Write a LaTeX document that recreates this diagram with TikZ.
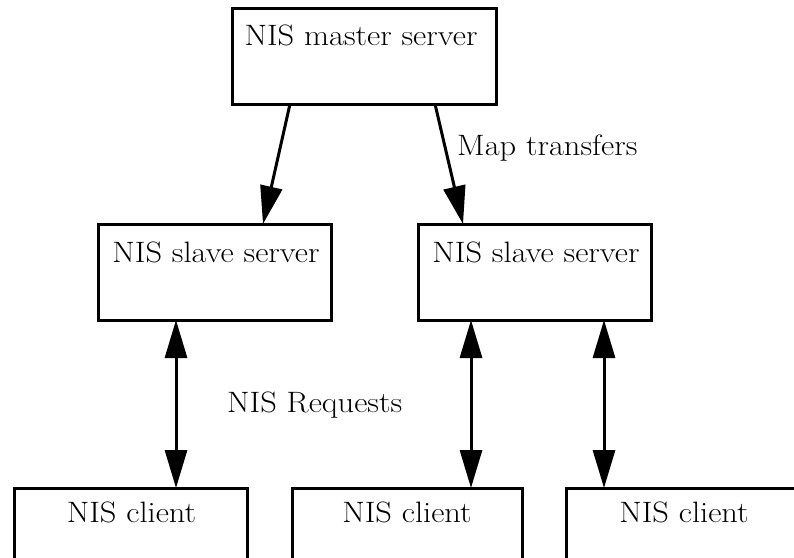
\documentclass[tikz,border=0pt]{standalone}
\usetikzlibrary{arrows.meta,calc}
\newcommand{\wide}[1]{\scalebox{1.1}[1]{#1}}
\begin{document}
\begin{tikzpicture}[x=1pt,y=-1pt,
  box/.style={draw, line width=3pt, rectangle, outer sep=0pt, inner sep=0pt, minimum height=96pt},
  txt/.style={font=\fontsize{29.5}{35}\selectfont, inner sep=0pt, anchor=base},
  lbl/.style={font=\fontsize{29.5}{35}\selectfont, inner sep=0pt, anchor=base west},
  arr/.style={line width=3pt, -{Triangle[length=38pt,width=22pt]}},
  darr/.style={line width=3pt, {Triangle[length=38pt,width=22pt]}-{Triangle[length=38pt,width=22pt]}}]
\useasboundingbox (0,0) rectangle (794,557);
\clip (0,0) rectangle (794,557);
% boxes
\node[box, minimum width=264pt] (m) at (364,56) {};
\node[box, minimum width=233pt] (sl) at (214.5,272) {};
\node[box, minimum width=233pt] (sr) at (534.5,272) {};
\node[box, minimum width=233pt] (c1) at (130.5,536) {};
\node[box, minimum width=230pt] (c2) at (407,536) {};
\node[box, minimum width=233pt] (c3) at (682.5,536) {};
% texts
\node[txt] (mt) at (361,45) {\wide{NIS master server}};
\node[txt] (slt) at (216,262) {\wide{NIS slave server}};
\node[txt] (srt) at (536,262) {\wide{NIS slave server}};
\node[txt] (c1t) at (131.5,522) {\wide{NIS client}};
\node[txt] (c2t) at (407,522) {\wide{NIS client}};
\node[txt] (c3t) at (684,522) {\wide{NIS client}};
\node[lbl] (map) at (457,155) {\wide{Map transfers}};
\node[lbl] (req) at (227,412) {\wide{NIS Requests}};
% connectors
\draw[arr] ([xshift=58pt]m.south west) -- ([xshift=165pt]sl.north west);
\draw[arr] ([xshift=203pt]m.south west) -- ([xshift=45pt]sr.north west);
\draw[darr] ([xshift=78pt]sl.south west) -- ([xshift=162pt]c1.north west);
\draw[darr] ([xshift=53pt]sr.south west) -- ([xshift=179pt]c2.north west);
\draw[darr] ([xshift=186pt]sr.south west) -- ([xshift=38pt]c3.north west);
\end{tikzpicture}
\end{document}
